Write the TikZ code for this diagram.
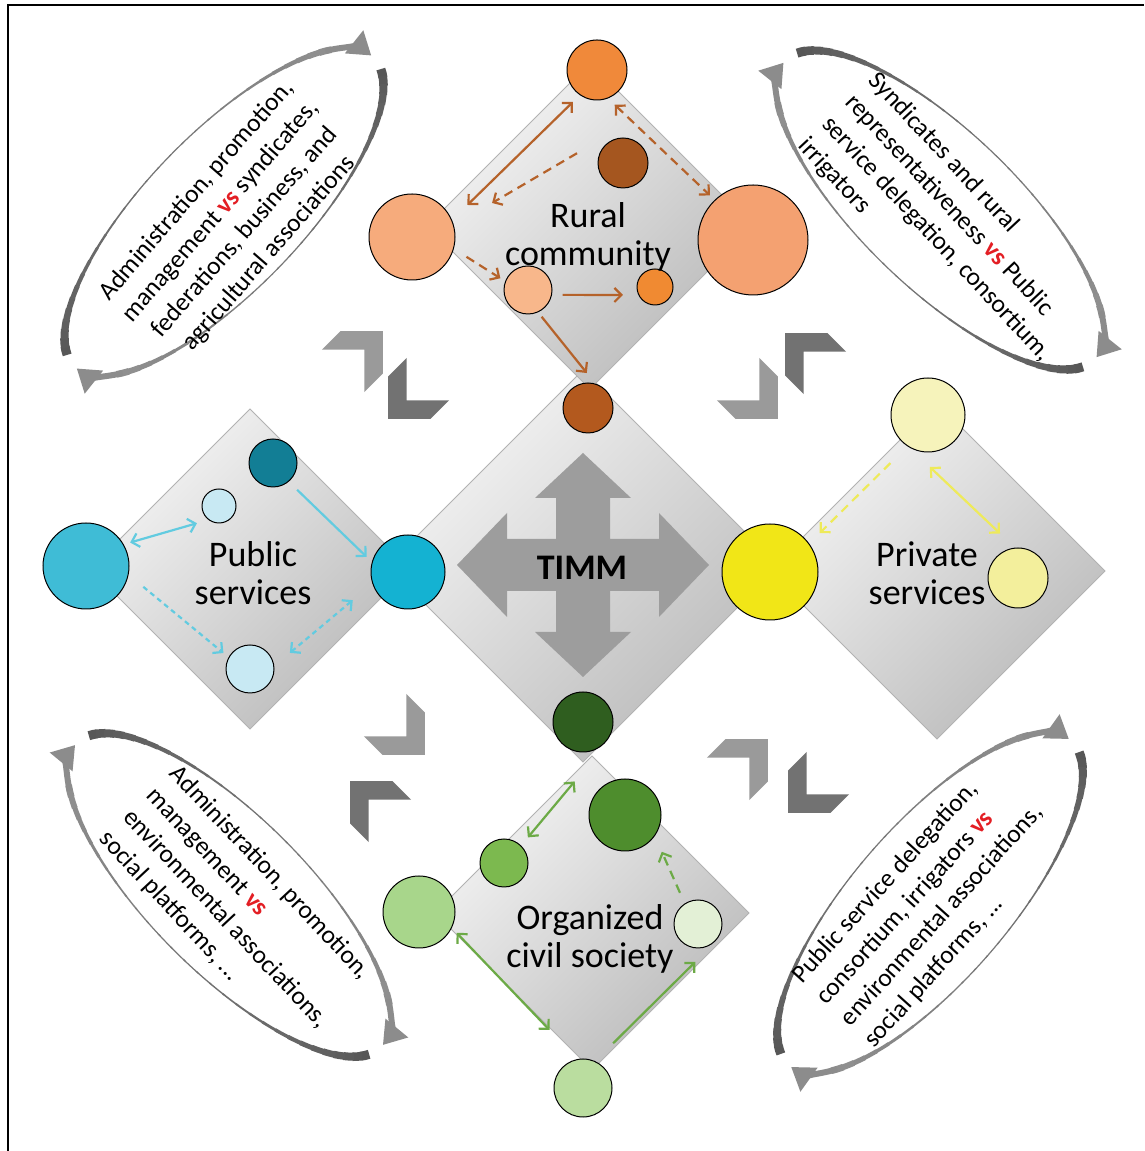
\documentclass[tikz,border=0pt]{standalone}
\usepackage{fontspec}
\setmainfont{Carlito}
\usetikzlibrary{arrows.meta}
\definecolor{vsred}{HTML}{E31E24}
\definecolor{ruralA}{HTML}{B5622A}
\definecolor{pubA}{HTML}{62CBE0}
\definecolor{privA}{HTML}{EEEA5A}
\definecolor{civA}{HTML}{6CAA46}
\definecolor{timmgray}{HTML}{9D9D9D}
\definecolor{chevdark}{HTML}{727272}
\definecolor{chevlight}{HTML}{9A9A9A}
\definecolor{rTopC}{HTML}{F0893A}
\definecolor{rDarkC}{HTML}{A5561F}
\definecolor{rLeftC}{HTML}{F6AB7C}
\definecolor{rRightC}{HTML}{F4A171}
\definecolor{rMidC}{HTML}{F8B78B}
\definecolor{rSmallC}{HTML}{F08A32}
\definecolor{rBotC}{HTML}{B3591E}
\definecolor{pDarkC}{HTML}{127E95}
\definecolor{pLightC}{HTML}{C8E9F3}
\definecolor{pBigC}{HTML}{3FBCD6}
\definecolor{pRightC}{HTML}{14B2D2}
\definecolor{vTopC}{HTML}{F6F3BB}
\definecolor{vBigC}{HTML}{F1E617}
\definecolor{vRightC}{HTML}{F3EF9C}
\definecolor{cTopC}{HTML}{2F5E1F}
\definecolor{cMedC}{HTML}{4E8D2D}
\definecolor{cSmallC}{HTML}{7CB94F}
\definecolor{cLeftC}{HTML}{A8D68B}
\definecolor{cRightC}{HTML}{E3F0D6}
\definecolor{cBotC}{HTML}{BADD9F}
\newcommand\myvs{\textcolor{vsred}{\bfseries vs}}
\newcommand\mydia[3]{\path[dia] (#1,#2+#3) -- (#1+#3,#2) -- (#1,#2-#3) -- (#1-#3,#2) -- cycle;}
\newcommand\mychev[4]{\fill[#4, shift={(#1,#2)}, rotate=#3] (28,0) -- (-2,30) -- (-28,30) -- (2,0) -- (-28,-30) -- (-2,-30) -- cycle;}
\newcommand\myring[3]{%
  \begin{scope}[shift={(#1,#2)}, rotate=#3]
    \fill[white] (0,0) ellipse [x radius=215, y radius=78];
    \foreach \s in {0,-180}{%
      \foreach \i in {0,...,29}{%
        \pgfmathsetmacro\rta{170+\s-\i*142/30}%
        \pgfmathsetmacro\rtb{\rta-142/30-0.8}%
        \pgfmathsetmacro\rw{1.2+8.5*abs(cos(\rta-2.4))^3}%
        \pgfmathtruncatemacro\rc{66-22*\i/29}%
        \draw[line width=\rw pt, black!\rc] (\rta:215 and 78) arc[start angle=\rta, end angle=\rtb, x radius=215, y radius=78];
      }%
      \draw[line width=6pt, black!45, -{Triangle[length=22pt,width=28pt]}] (30+\s:215 and 78) arc[start angle=30+\s, end angle=2+\s, x radius=215, y radius=78];
    }%
  \end{scope}}
\tikzset{
  dia/.style={draw=black!30, line width=0.8pt, top color=black!4, bottom color=black!27, shading angle=45},
  bub/.style={circle, draw=black, line width=1pt, inner sep=0pt, minimum size=#1},
  lk/.style={line width=2.2pt},
  oneway/.style={-{Straight Barb[length=7pt,width=14pt]}},
  twoway/.style={{Straight Barb[length=7pt,width=14pt]}-{Straight Barb[length=7pt,width=14pt]}},
  dsh/.style={dash pattern=on 9pt off 6pt},
  dot/.style={dash pattern=on 5pt off 4pt},
  lbl/.style={align=center, font=\fontsize{36}{38}\selectfont, inner sep=0pt},
  etxt/.style={font=\fontsize{25.5}{32}\selectfont, inner sep=0pt},
}
\begin{document}
\begin{tikzpicture}[x=1pt,y=1pt]
\useasboundingbox (0,0) rectangle (1144,1151);
\fill[white] (0,0) rectangle (1144,1151);
\draw[line width=2pt] (8,0) -- (8,1146) -- (1144,1146);

% diamonds
\mydia{583}{585}{196}
\mydia{250}{582}{160}
\mydia{937}{580}{168}
\mydia{590}{925}{163}
\mydia{592}{238}{157}

% central cross arrow
\begin{scope}[shift={(583,586)}]
\fill[timmgray] (0,112) -- (48,67) -- (27,67) -- (27,26) -- (76,26) -- (76,52) -- (126,0) -- (76,-52) -- (76,-26) -- (27,-26) -- (27,-67) -- (48,-67) -- (0,-112) -- (-48,-67) -- (-27,-67) -- (-27,-26) -- (-76,-26) -- (-76,-52) -- (-126,0) -- (-76,52) -- (-76,26) -- (-27,26) -- (-27,67) -- (-48,67) -- cycle;
\end{scope}
\node[lbl, font=\fontsize{36}{38}\selectfont\bfseries] (timm) at (582,583) {TIMM};

% chevrons (pairs pointing to the two neighbouring diamonds)
\mychev{363}{800}{45}{chevlight}
\mychev{408}{752}{-135}{chevdark}
\mychev{805}{798}{135}{chevdark}
\mychev{758}{752}{-45}{chevlight}
\mychev{405}{416}{-45}{chevlight}
\mychev{370}{350}{135}{chevdark}
\mychev{748}{392}{45}{chevlight}
\mychev{808}{358}{-135}{chevdark}

% rings
\myring{224}{939}{46}
\myring{940}{941}{-44}
\myring{229}{256}{-45}
\myring{930}{248}{49}

\node[etxt, rotate=49, align=center] (tlT) at (233,929) {Administration, promotion,\\management \myvs{} syndicates,\\federations, business, and\\agricultural associations};
\node[etxt, rotate=-47, align=left] (trT) at (948,923) {Syndicates and rural\\representativeness \myvs{} Public\\service delegation, consortium,\\irrigators};
\node[etxt, rotate=-47, align=left] (blT) at (237,243) {Administration, promotion,\\management \myvs\\environmental associations,\\social platforms, ...};
\node[etxt, rotate=48, align=left] (brT) at (930,246) {Public service delegation,\\consortium, irrigators \myvs\\environmental associations,\\social platforms, ...};

% circles: rural
\node[bub=60pt, fill=rTopC] (rTop) at (597,1081) {};
\node[bub=50pt, fill=rDarkC] (rDark) at (623,988) {};
\node[bub=86pt, fill=rLeftC] (rLeft) at (412,914) {};
\node[bub=110pt, fill=rRightC] (rRight) at (753,911) {};
\node[bub=48pt, fill=rMidC] (rMid) at (528,861) {};
\node[bub=36pt, fill=rSmallC] (rSmall) at (655,864) {};
\node[bub=50pt, fill=rBotC] (rBot) at (588,743) {};
% public
\node[bub=48pt, fill=pDarkC] (pDark) at (273,688) {};
\node[bub=34pt, fill=pLightC] (pSmall) at (219,645) {};
\node[bub=86pt, fill=pBigC] (pBig) at (86,585) {};
\node[bub=74pt, fill=pRightC] (pRight) at (408,579) {};
\node[bub=48pt, fill=pLightC] (pBot) at (250,482) {};
% private
\node[bub=74pt, fill=vTopC] (vTop) at (928,736) {};
\node[bub=96pt, fill=vBigC] (vBig) at (770,579) {};
\node[bub=60pt, fill=vRightC] (vRight) at (1018,573) {};
% civil
\node[bub=60pt, fill=cTopC] (cTop) at (583,429) {};
\node[bub=72pt, fill=cMedC] (cMed) at (625,336) {};
\node[bub=48pt, fill=cSmallC] (cSmall) at (504,288) {};
\node[bub=72pt, fill=cLeftC] (cLeft) at (419,239) {};
\node[bub=48pt, fill=cRightC] (cRight) at (698,227) {};
\node[bub=58pt, fill=cBotC] (cBot) at (583,63) {};

% rural arrows
\draw[lk, ruralA, twoway] ([shift={(233:40)}]rTop.center) -- ([shift={(30:64)}]rLeft.center);
\draw[lk, ruralA, dsh, oneway] ([shift={(168:47)}]rDark.center) -- ([shift={(23:87)}]rLeft.center);
\draw[lk, ruralA, dsh, twoway] ([shift={(297:39)}]rTop.center) -- ([shift={(134:62)}]rRight.center);
\draw[lk, ruralA, dsh, oneway] ([shift={(340:58)}]rLeft.center) -- ([shift={(157:30)}]rMid.center);
\draw[lk, ruralA, oneway] ([shift={(352:35)}]rMid.center) -- ([shift={(194:33)}]rSmall.center);
\draw[lk, ruralA, oneway] ([shift={(297:30)}]rMid.center) -- ([shift={(92:35)}]rBot.center);
% public arrows
\draw[lk, pubA, twoway] ([shift={(28:50)}]pBig.center) -- ([shift={(218:28)}]pSmall.center);
\draw[lk, pubA, oneway] ([shift={(312:36)}]pDark.center) -- ([shift={(160:44)}]pRight.center);
\draw[lk, pubA, dot, oneway] ([shift={(340:61)}]pBig.center) -- ([shift={(149:31)}]pBot.center);
\draw[lk, pubA, dot, twoway] ([shift={(207:62)}]pRight.center) -- ([shift={(22:43)}]pBot.center);
% private arrows
\draw[lk, privA, dsh, oneway] ([shift={(232:61)}]vTop.center) -- ([shift={(38:63)}]vBig.center);
\draw[lk, privA, twoway] ([shift={(272:52)}]vTop.center) -- ([shift={(112:48)}]vRight.center);
% civil arrows
\draw[lk, civA, twoway] ([shift={(262:60)}]cTop.center) -- ([shift={(47:35)}]cSmall.center);
\draw[lk, civA, twoway] ([shift={(331:43)}]cLeft.center) -- ([shift={(120:67)}]cBot.center);
\draw[lk, civA, oneway] ([shift={(56:54)}]cBot.center) -- ([shift={(266:38)}]cRight.center);
\draw[lk, civA, dsh, oneway] ([shift={(120:36)}]cRight.center) -- ([shift={(315:52)}]cMed.center);

% labels
\node[lbl] (rTxt) at (588,914) {Rural\\community};
\node[lbl] (pTxt) at (253,578) {Public\\services};
\node[lbl] (vTxt) at (927,578) {Private\\services};
\node[lbl] (cTxt) at (590,212) {Organized\\civil society};
\end{tikzpicture}
\end{document}
